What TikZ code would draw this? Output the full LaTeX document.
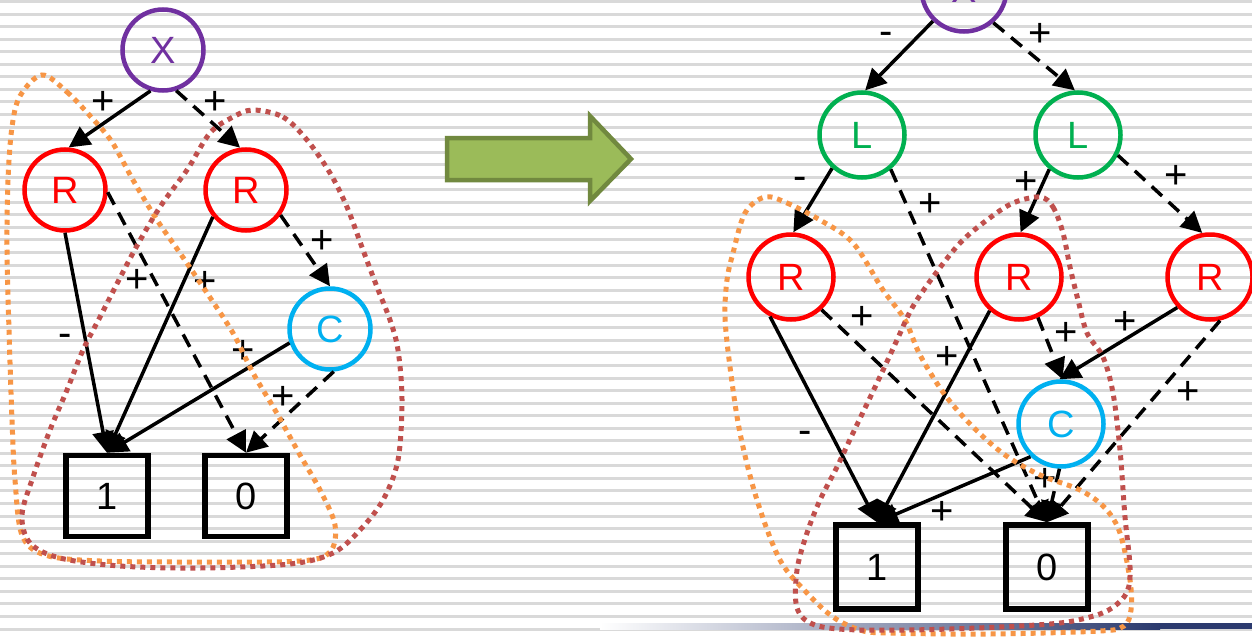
\documentclass[tikz,border=0pt]{standalone}
\usepackage{fontspec}
\setmainfont{Liberation Sans}
\usetikzlibrary{arrows.meta}
\definecolor{stripecol}{HTML}{D9D9D9}
\definecolor{cpurple}{HTML}{7030A0}
\definecolor{cred}{HTML}{FF0000}
\definecolor{cgreen}{HTML}{00B050}
\definecolor{ccyan}{HTML}{00B0F0}
\definecolor{loopor}{HTML}{F79646}
\definecolor{loopred}{HTML}{C0504D}
\definecolor{arrfill}{HTML}{9BBB59}
\definecolor{arrdraw}{HTML}{71893F}
\definecolor{navy}{HTML}{2B3A6E}
\definecolor{midnavy}{HTML}{9DA2BE}
\begin{document}
\begin{tikzpicture}[x=1pt,y=-1pt,
  circ/.style={circle,draw,line width=4.5pt,minimum size=81pt,inner sep=0pt,font=\fontsize{38}{38}\selectfont},
  circB/.style={circ,minimum size=85pt},
  box/.style={draw,line width=5.5pt,minimum width=82pt,minimum height=81pt,inner sep=0pt,font=\fontsize{38}{38}\selectfont},
  boxB/.style={box,minimum height=84pt},
  sol/.style={line width=3.5pt,-{Triangle[length=21pt,width=21pt]}},
  dsh/.style={sol,dash pattern=on 14pt off 9pt},
  lab/.style={font=\fontsize{40}{40}\selectfont,inner sep=0pt},
  oloop/.style={draw=loopor,line width=5pt,dash pattern=on 5pt off 5pt},
  rloop/.style={draw=loopred,line width=5pt,dash pattern=on 5pt off 5pt},
]
\useasboundingbox (0,0) rectangle (1252,637);
\fill[white] (0,0) rectangle (1252,637);
\foreach \k in {0,...,50} \fill[stripecol] (0,{\k*12.55}) rectangle (1252,{\k*12.55+3});
\shade[left color=white,middle color=midnavy,right color=navy] (600,623) rectangle (1160,629);
\fill[navy] (1159,623) rectangle (1252,629);

% green block arrow
\draw[fill=arrfill,draw=arrdraw,line width=4.5pt,line join=miter]
  (447,138) -- (590,138) -- (590,116) -- (631,159) -- (590,201) -- (590,180) -- (447,180) -- cycle;

% ---------- left graph ----------
\node[circ,draw=cpurple,text=cpurple] (x) at (163,50) {X};
\node[circ,draw=cred,text=cred] (rl) at (65,190) {R};
\node[circ,draw=cred,text=cred] (rr) at (246,190) {R};
\node[circ,draw=ccyan,text=ccyan] (c) at (330,329) {C};
\node[box] (b1) at (107,496) {1};
\node[box] (b0) at (246,496) {0};

\draw[sol] (x.253) -- (rl.85);
\draw[dsh] (x.288) -- (rr.98);
\draw[sol] (rl.south) -- (b1.north);
\draw[dsh] (rl.-3) -- (b0.north);
\draw[sol] (rr.219) -- (b1.north);
\draw[dsh] (rr.324) -- (c.north);
\draw[sol] (c.199) -- (b1.north);
\draw[dsh] (c.275) -- (b0.north);

\node[lab] (la1) at (103,103) {+};
\node[lab] (la2) at (215,103) {+};
\node[lab] (la3) at (65,340) {-};
\node[lab] (la4) at (137,281) {+};
\node[lab] (la5) at (205,283) {+};
\node[lab] (la6) at (322,242) {+};
\node[lab] (la7) at (243,352) {+};
\node[lab] (la8) at (283,398) {+};

% ---------- right graph ----------
\node[circB,draw=cpurple,text=cpurple] (x2) at (964,-11) {X};
\node[circB,draw=cgreen,text=cgreen] (l1) at (862,135) {L};
\node[circB,draw=cgreen,text=cgreen] (l2) at (1078,135) {L};
\node[circB,draw=cred,text=cred] (r1) at (791,277) {R};
\node[circB,draw=cred,text=cred] (r2) at (1019,277) {R};
\node[circB,draw=cred,text=cred] (r3) at (1210,277) {R};
\node[circB,draw=ccyan,text=ccyan] (c2) at (1061,424) {C};
\node[boxB] (b12) at (877,567) {1};
\node[boxB] (b02) at (1047,567) {0};

\draw[sol] (x2.226) -- (l1.86);
\draw[dsh] (x2.311) -- (l2.94);
\draw[sol] (l1.228) -- (r1.87);
\draw[dsh] (l1.310) -- (b02.north);
\draw[sol] (l2.230) -- (r2.88);
\draw[dsh] (l2.333) -- (r3.100);
\draw[sol] (r1.242) -- (b12.north);
\draw[dsh] (r1.313) -- (b02.north);
\draw[sol] (r2.229) -- (b12.north);
\draw[dsh] (r2.295) -- (c2.88);
\draw[sol] (r3.223) -- (c2.92);
\draw[dsh] (r3.283) -- (b02.north);
\draw[sol] (c2.227) -- (b12.north);
\draw[dsh] (c2.268) -- (b02.north);

\node[lab] (lb1) at (886,38) {-};
\node[lab] (lb2) at (1040,35) {+};
\node[lab] (lb3) at (800,183) {-};
\node[lab] (lb4) at (930,205) {+};
\node[lab] (lb5) at (1026,183) {+};
\node[lab] (lb6) at (1176,177) {+};
\node[lab] (lb7) at (862,318) {+};
\node[lab] (lb8) at (805,437) {-};
\node[lab] (lb9) at (947,358) {+};
\node[lab] (lb10) at (1066,334) {+};
\node[lab] (lb11) at (1125,323) {+};
\node[lab] (lb12) at (1188,393) {+};
\node[lab] (lb13) at (942,513) {+};
\node[lab] (lb14) at (1045,480) {+};

% ---------- dotted loops ----------
\draw[oloop] plot[smooth cycle,tension=0.55] coordinates {(42,75) (67,92) (92,118) (112,142) (133,180) (157,220) (180,253) (205,290) (233,333) (253,373) (275,410) (300,455) (320,490) (335,525) (330,552) (300,561) (200,562) (100,561) (45,555) (22,535) (15,480) (12,420) (9,330) (7,250) (8,180) (12,127) (20,96)};
\draw[rloop] plot[smooth cycle,tension=0.55] coordinates {(253,110) (283,117) (307,140) (330,173) (347,207) (363,250) (377,287) (390,320) (398,350) (402,400) (398,460) (383,500) (360,530) (333,553) (290,564) (200,568) (120,566) (60,558) (30,543) (22,515) (33,477) (50,430) (67,390) (83,350) (100,317) (133,253) (160,207) (187,170) (210,133) (233,117)};
\draw[oloop] plot[smooth cycle,tension=0.55] coordinates {(765,197) (787,203) (820,220) (853,243) (883,290) (905,320) (920,355) (945,395) (973,427) (1005,455) (1040,475) (1080,490) (1105,508) (1120,533) (1130,580) (1131,610) (1124,626) (1100,631) (990,634) (887,633) (860,630) (833,617) (807,593) (780,560) (757,500) (740,433) (730,367) (725,317) (727,280) (733,253) (745,213)};
\draw[rloop] plot[smooth cycle,tension=0.55] coordinates {(1040,197) (1053,207) (1063,233) (1070,267) (1078,300) (1087,333) (1103,357) (1113,393) (1120,450) (1125,517) (1130,567) (1127,592) (1112,608) (1090,617) (1050,624) (950,629) (860,630) (815,625) (797,608) (797,570) (807,533) (820,500) (837,467) (853,433) (877,383) (897,340) (912,308) (933,277) (960,243) (987,220) (1013,203)};
\end{tikzpicture}
\end{document}
